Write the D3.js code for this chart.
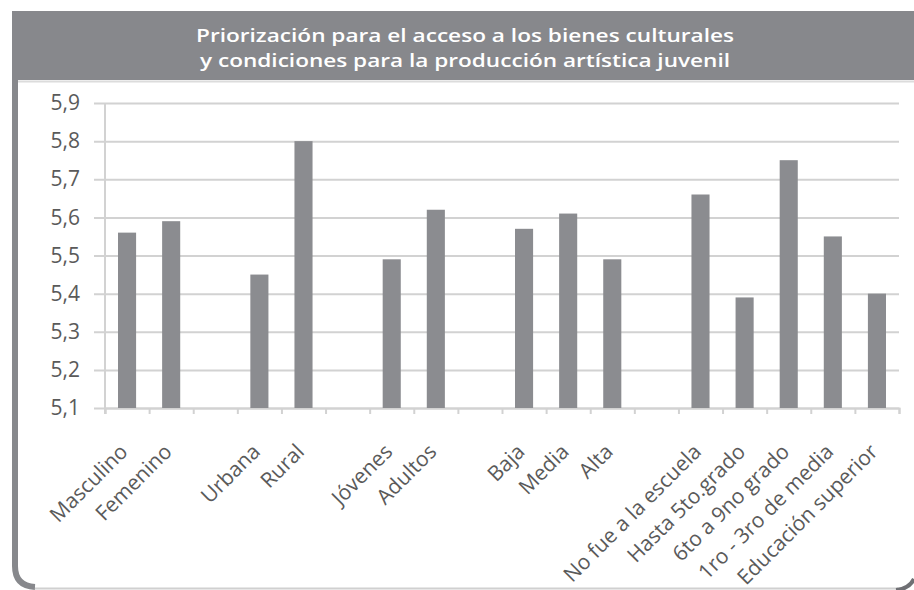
<!DOCTYPE html>
<html>
<head>
<meta charset="utf-8">
<script src="https://cdn.jsdelivr.net/npm/d3@7"></script>
<style>
  body { margin: 0; background: #fff; }
  svg { display: block; }
</style>
</head>
<body>
<svg width="914" height="590"></svg>
<script>
// data ("" = empty slot between groups)
var categories = ["Masculino", "Femenino", "", "Urbana", "Rural", "", "Jóvenes", "Adultos", "",
  "Baja", "Media", "Alta", "", "No fue a la escuela", "Hasta 5to.grado", "6to a 9no grado",
  "1ro - 3ro de media", "Educación superior"];
var values = [5.56, 5.59, null, 5.45, 5.80, null, 5.49, 5.62, null,
  5.57, 5.61, 5.49, null, 5.66, 5.39, 5.75, 5.55, 5.40];
var yTicks = [5.1, 5.2, 5.3, 5.4, 5.5, 5.6, 5.7, 5.8, 5.9];
var titleLines = ["Priorización para el acceso a los bienes culturales",
  "y condiciones para la producción artística juvenil"];

var svg = d3.select("svg"),
    width = +svg.attr("width"),
    height = +svg.attr("height");

var grey = "#87888c",
    lightGrey = "#d2d2d2",
    textGrey = "#5a5a5a";

// plot area (note: "top" is taken by window.top)
var plotLeft = 105, plotRight = 899, plotTop = 103, plotBottom = 408;

var fmt = d3.formatLocale({decimal: ",", thousands: ".", grouping: [3], currency: ["", ""]}).format(".1f");

// frame
svg.append("rect")
    .attr("x", 12).attr("y", 11)
    .attr("width", width - 12).attr("height", 69)
    .attr("fill", grey);
svg.append("line")
    .attr("x1", 18).attr("x2", width).attr("y1", 81.5).attr("y2", 81.5)
    .attr("stroke", "#dcdcdc").attr("stroke-width", 2);
svg.append("path")
    .attr("d", "M15,80 V566 Q15,586 35,587")
    .attr("fill", "none").attr("stroke", grey).attr("stroke-width", 6);
svg.append("line")
    .attr("x1", 35).attr("x2", 898).attr("y1", 588.5).attr("y2", 588.5)
    .attr("stroke", "#d0d0d0").attr("stroke-width", 2);
svg.append("path")
    .attr("d", "M896,590 Q909,589 914,579")
    .attr("fill", "none").attr("stroke", "#6f7074").attr("stroke-width", 4);

// title
svg.selectAll(".title")
  .data(titleLines)
  .enter()
  .append("text")
    .attr("class", "title")
    .attr("x", 465)
    .attr("y", function(d, i) { return 42 + i * 25 })
    .attr("text-anchor", "middle")
    .attr("textLength", function(d, i) { return i == 0 ? 538 : 530 })
    .attr("lengthAdjust", "spacingAndGlyphs")
    .style("font-family", "'Open Sans', sans-serif")
    .style("font-weight", 600)
    .style("font-size", "18px")
    .style("fill", "#fff")
    .text(function(d) { return d });

// scales
var x = d3.scaleBand()
    .domain(d3.range(categories.length))
    .range([plotLeft, plotRight])
    .paddingInner(0.59)
    .paddingOuter(0.295);

var xSlots = d3.scaleLinear()
    .domain([0, categories.length])
    .range([plotLeft, plotRight]);

var y = d3.scaleLinear()
    .domain([5.1, 5.9])
    .range([plotBottom, plotTop]);

// gridlines (also the outer y ticks)
var grid = svg.append("g")
    .attr("transform", "translate(" + (plotLeft - 11) + ",0)")
    .call(d3.axisLeft(y).tickValues(yTicks).tickSize(-(plotRight - plotLeft + 11)).tickFormat(""));
grid.select(".domain").remove();
grid.selectAll("line").attr("stroke", lightGrey).attr("stroke-width", 2);

// y labels
var yAxis = svg.append("g")
    .attr("transform", "translate(" + plotLeft + ",0)")
    .call(d3.axisLeft(y).tickValues(yTicks).tickSize(0).tickPadding(25).tickFormat(fmt));
yAxis.select(".domain").remove();
yAxis.selectAll("text")
    .style("font-family", "'Open Sans', sans-serif")
    .style("font-size", "21px")
    .attr("fill", textGrey);

// y axis line
svg.append("line")
    .attr("x1", plotLeft).attr("x2", plotLeft).attr("y1", plotTop).attr("y2", plotBottom + 6)
    .attr("stroke", lightGrey).attr("stroke-width", 2);

// x axis with ticks between slots
var xAxis = svg.append("g")
    .attr("transform", "translate(0," + plotBottom + ")")
    .call(d3.axisBottom(xSlots).tickValues(d3.range(categories.length + 1)).tickSize(6).tickFormat(""));
xAxis.select(".domain").attr("stroke", lightGrey).attr("stroke-width", 2);
xAxis.selectAll("line").attr("stroke", lightGrey).attr("stroke-width", 2);

// bars
svg.selectAll(".bar")
  .data(values.map(function(v, i) { return {i: i, v: v} }).filter(function(d) { return d.v != null }))
  .enter()
  .append("rect")
    .attr("class", "bar")
    .attr("x", function(d) { return x(d.i) })
    .attr("width", x.bandwidth())
    .attr("y", function(d) { return y(d.v) })
    .attr("height", function(d) { return plotBottom - y(d.v) })
    .attr("fill", "#8b8c90");

// category labels, rotated
svg.selectAll(".xlabel")
  .data(categories.map(function(c, i) { return {i: i, c: c} }).filter(function(d) { return d.c != "" }))
  .enter()
  .append("text")
    .attr("class", "xlabel")
    .attr("transform", function(d) {
      return "translate(" + (x(d.i) + x.bandwidth() / 2 + 2) + "," + (plotBottom + 45) + ") rotate(-45)";
    })
    .attr("text-anchor", "end")
    .style("font-family", "'Open Sans', sans-serif")
    .style("font-size", "21px")
    .attr("fill", textGrey)
    .text(function(d) { return d.c });
</script>
</body>
</html>
